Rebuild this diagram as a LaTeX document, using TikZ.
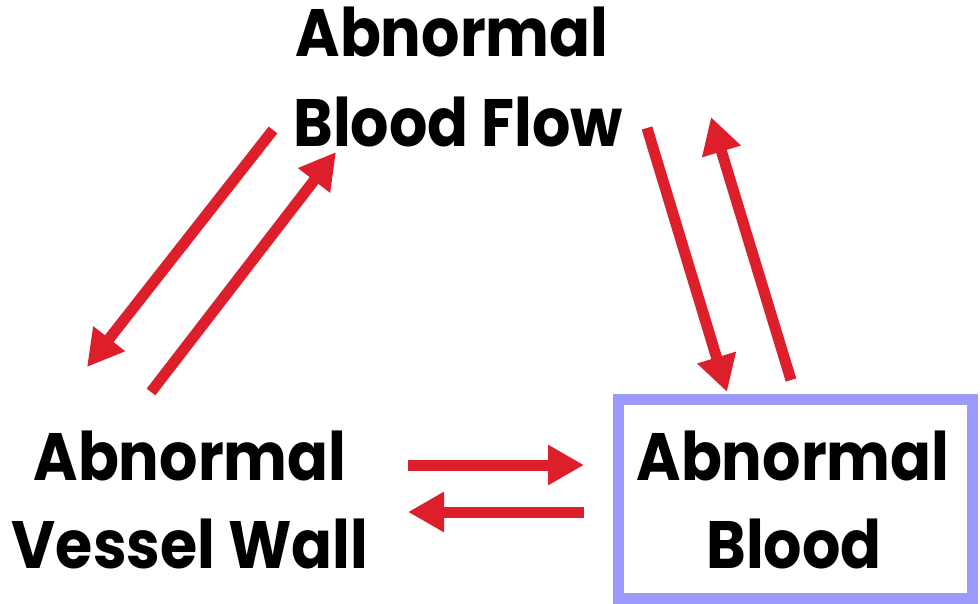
\documentclass[tikz,border=0pt]{standalone}
\usepackage{fontspec}
\setmainfont{Poppins}[FakeStretch=0.9]
\usetikzlibrary{arrows.meta}
\definecolor{arrred}{RGB}{220,31,43}
\definecolor{boxblue}{RGB}{155,155,255}
\begin{document}
\begin{tikzpicture}[x=1pt,y=-1pt,
  lbl/.style={anchor=base,inner sep=0pt,font=\fontsize{67}{80}\selectfont\bfseries},
  rarrow/.style={draw=arrred,line width=11pt,-{Triangle[length=36pt,width=38pt]},fill=arrred}]
\useasboundingbox (0,0) rectangle (980,604);
% texts
\node[lbl] (flowA) at (452,57) {Abnormal};
\node[lbl] (flowB) at (458,147) {Blood Flow};
\node[lbl] (wallA) at (190,480) {Abnormal};
\node[lbl] (wallB) at (190,568) {Vessel Wall};
\node[lbl] (bloodA) at (793,480) {Abnormal};
\node[lbl] (bloodB) at (794,568) {Blood};
% box
\draw[boxblue,line width=11pt] (618,399) rectangle (972,598);
% arrow endpoints
\coordinate (a1s) at (273,130); \coordinate (a1e) at (87,367);
\coordinate (a2s) at (151,392); \coordinate (a2e) at (336,152);
\coordinate (a3s) at (647,128); \coordinate (a3e) at (727,392);
\coordinate (a4s) at (791,380); \coordinate (a4e) at (711,117);
\coordinate (a5s) at (408,465); \coordinate (a5e) at (584,465);
\coordinate (a6s) at (584,512); \coordinate (a6e) at (408,512);
\draw[rarrow] (a1s) -- (a1e);
\draw[rarrow] (a2s) -- (a2e);
\draw[rarrow] (a3s) -- (a3e);
\draw[rarrow] (a4s) -- (a4e);
\draw[rarrow] (a5s) -- (a5e);
\draw[rarrow] (a6s) -- (a6e);
\end{tikzpicture}
\end{document}
